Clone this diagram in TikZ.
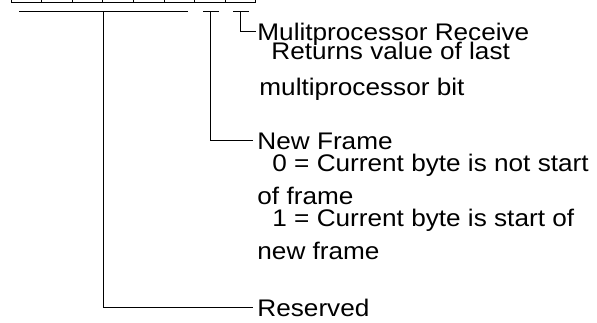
\documentclass[tikz,border=0pt]{standalone}
\usepackage{fontspec}
\setmainfont[FakeStretch=1.09]{Liberation Sans}
\begin{document}
\begin{tikzpicture}[x=1pt,y=-1pt,line width=0.9pt,
  lbl/.style={anchor=base west,inner sep=0pt,font=\fontsize{24}{24}\selectfont},
  head/.style={lbl,text height=17pt,text depth=0pt},
  conn/.style={shorten >=4pt}]
\useasboundingbox (0,0) rectangle (597,322);
% register cells (top cut off)
\begin{scope}
\clip (0,0) rectangle (597,322);
\foreach \i in {0,...,7}{
  \draw ({11+30.6*\i},-30) rectangle ({11+30.6*(\i+1)},2);
}
\end{scope}
% bracket coordinates
\coordinate (r1a) at (19,11.5);
\coordinate (r1b) at (188,11.5);
\coordinate (r1m) at (103.7,11.5);
\coordinate (r2a) at (203,11.5);
\coordinate (r2b) at (218.5,11.5);
\coordinate (r2m) at (210,11.5);
\coordinate (r3a) at (233,11.5);
\coordinate (r3b) at (248.5,11.5);
\coordinate (r3m) at (240.7,11.5);
% labels
\node[head] (mr)  at (257,40) {Mulitprocessor Receive};
\node[lbl]  (mr1) at (271,59) {Returns value of last};
\node[lbl]  (mr2) at (259,95) {multiprocessor bit};
\node[head] (nf)  at (257,149) {New Frame};
\node[lbl]  (nf1) at (272,171) {0 = Current byte is not start};
\node[lbl]  (nf2) at (257,204) {of frame};
\node[lbl]  (nf3) at (272,226) {1 = Current byte is start of};
\node[lbl]  (nf4) at (257,259) {new frame};
\node[head] (rs)  at (257,316) {Reserved};
% brackets and leaders
\draw (r1a) -- (r1b);
\draw (r2a) -- (r2b);
\draw (r3a) -- (r3b);
\draw[conn,shorten >=1pt] (r3m) |- (mr.west);
\draw[conn] (r2m) |- (nf.west);
\draw[conn] (r1m) |- (rs.west);
\end{tikzpicture}
\end{document}
